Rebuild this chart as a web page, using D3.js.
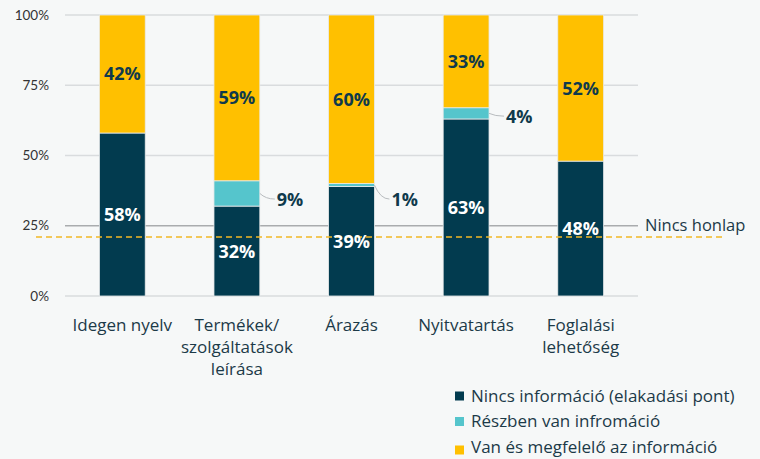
<!DOCTYPE html>
<html>
<head>
<meta charset="utf-8">
<style>
  body { margin: 0; background: #f6f8f8; font-family: "Open Sans", Lato, sans-serif; }
  svg { display: block; }
</style>
<script src="https://cdn.jsdelivr.net/npm/d3@7"></script>
</head>
<body>
<script>

// data
var categories = ["Idegen nyelv", "Termékek/\nszolgáltatások\nleírása", "Árazás", "Nyitvatartás", "Foglalási\nlehetőség"];
var noInfo = [58, 32, 39, 63, 48];
var partInfo = [0, 9, 1, 4, 0];
var goodInfo = [42, 59, 60, 33, 52];
var seriesNames = ["Nincs információ (elakadási pont)", "Részben van infromáció", "Van és megfelelő az információ"];
var colors = ["#023b4f", "#55c5cc", "#ffc000"];
var yTicks = [0, 25, 50, 75, 100];
var noWebsite = 21;
var noWebsiteLabel = "Nincs honlap";

var W = 760, H = 459;
var margin = {left: 65, right: 122, top: 15, bottom: 163};
var width = W - margin.left - margin.right;
var height = H - margin.top - margin.bottom;

var svg = d3.select("body").append("svg")
  .attr("width", W).attr("height", H);

var g = svg.append("g")
  .attr("transform", "translate(" + margin.left + "," + margin.top + ")");

var x = d3.scaleBand().domain(d3.range(categories.length)).range([0, width])
  .paddingInner(0.6).paddingOuter(0.3);
var y = d3.scaleLinear().domain([0, 100]).range([height, 0]);

// grid
g.selectAll(".grid").data(yTicks).enter().append("line")
  .attr("x1", 0).attr("x2", width)
  .attr("y1", function(d) { return y(d); }).attr("y2", function(d) { return y(d); })
  .style("stroke", function(d) { return d === 25 ? "#a9acae" : "#d9dcde"; })
  .style("stroke-width", 1.5);

// y axis labels
g.selectAll(".ytick").data(yTicks).enter().append("text")
  .attr("x", -16).attr("y", function(d) { return y(d); })
  .attr("dy", "0.35em")
  .attr("text-anchor", "end")
  .style("font-family", "Lato, sans-serif")
  .style("font-size", "13.5px").style("fill", "#333")
  .text(function(d) { return d + "%"; });

// stacked data
var stacks = categories.map(function(c, i) {
  var vals = [noInfo[i], partInfo[i], goodInfo[i]];
  var y0 = 0;
  return vals.map(function(v, k) {
    var s = {i: i, k: k, v: v, y0: y0, y1: y0 + v};
    y0 += v;
    return s;
  });
});
var segs = d3.merge(stacks).filter(function(s) { return s.v > 0; });

g.selectAll(".seg").data(segs).enter().append("rect")
  .attr("x", function(d) { return x(d.i); })
  .attr("width", x.bandwidth())
  .attr("y", function(d) { return y(d.y1); })
  .attr("height", function(d) { return y(d.y0) - y(d.y1); })
  .style("fill", function(d) { return colors[d.k]; })
  .style("stroke", "#e8eaeb").style("stroke-width", 0.8);

// no website dashed line
g.append("line")
  .attr("x1", -29).attr("x2", width + 84)
  .attr("y1", y(noWebsite)).attr("y2", y(noWebsite))
  .style("stroke", "#f2b824").style("stroke-width", 1.5)
  .style("stroke-dasharray", "6,4");

g.append("text")
  .attr("x", width + 7).attr("y", y(25))
  .attr("dy", "0.3em")
  .style("font-size", "16.5px").style("fill", "#1c3a48")
  .text(noWebsiteLabel);

// labels inside bars
g.selectAll(".lbl").data(segs.filter(function(s) { return s.k !== 1; })).enter().append("text")
  .attr("x", function(d) { return x(d.i) + x.bandwidth() / 2; })
  .attr("y", function(d) { return y((d.y0 + d.y1) / 2); })
  .attr("dy", "0.36em")
  .attr("text-anchor", "middle")
  .style("font-size", "18px").style("font-weight", "bold")
  .style("fill", function(d) { return d.k === 0 ? "#ffffff" : "#0f3a4c"; })
  .text(function(d) { return d.v + "%"; });

// labels for partial segments with leader lines
var parts = segs.filter(function(s) { return s.k === 1; });
var labelY = {1: 34.5, 2: 34.5, 3: 64};
parts.forEach(function(d) {
  var bx = x(d.i) + x.bandwidth();
  var sy = y((d.y0 + d.y1) / 2);
  var ly = y(labelY[d.i]);
  g.append("path")
    .attr("d", "M" + bx + "," + sy + " Q" + (bx + 6) + "," + ly + " " + (bx + 15) + "," + ly)
    .style("fill", "none").style("stroke", "#b8bcbf").style("stroke-width", 1);
  g.append("text")
    .attr("x", bx + 17).attr("y", ly)
    .attr("dy", "0.36em")
    .style("font-size", "18px").style("font-weight", "bold").style("fill", "#0f3a4c")
    .text(d.v + "%");
});

// category labels
g.selectAll(".cat").data(categories).enter().append("text")
  .attr("x", function(d, i) { return x(i) + x.bandwidth() / 2; })
  .attr("y", height + 35)
  .attr("text-anchor", "middle")
  .style("font-size", "17px").style("fill", "#1c3a48")
  .each(function(d) {
    var t = d3.select(this);
    d.split("\n").forEach(function(line, j) {
      t.append("tspan")
        .attr("x", t.attr("x"))
        .attr("dy", j === 0 ? 0 : 22)
        .text(line);
    });
  });

// legend
var legend = svg.append("g").attr("transform", "translate(455,396)");
seriesNames.forEach(function(name, i) {
  legend.append("rect")
    .attr("x", 0).attr("y", i * 25.5 - 4.5 + (i === 2 ? 3 : 0))
    .attr("width", 9).attr("height", 9)
    .style("fill", colors[i]);
  legend.append("text")
    .attr("x", 16).attr("y", i * 25.5)
    .attr("dy", "0.35em")
    .style("font-size", "17px").style("fill", "#1c3a48")
    .text(name);
});

</script>
</body>
</html>
